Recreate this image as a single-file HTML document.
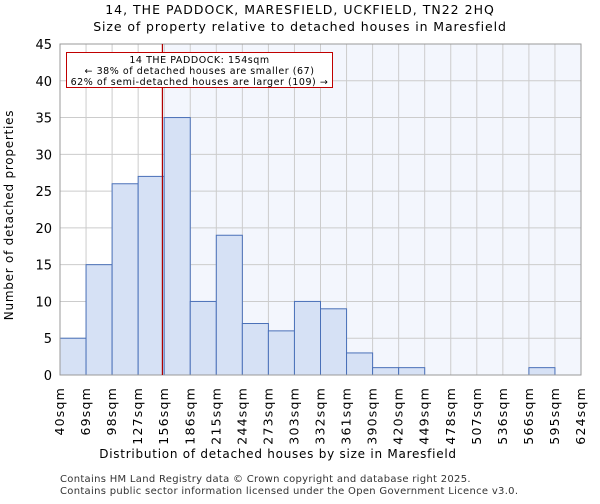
<!DOCTYPE html>
<html><head><meta charset="utf-8"><style>
body{margin:0;background:#fff;font-family:"DejaVu Sans","Liberation Sans",sans-serif}
</style></head><body>
<svg id="c" width="600" height="500" xmlns="http://www.w3.org/2000/svg" font-family="DejaVu Sans, Liberation Sans, sans-serif">
<text x="300" y="14" text-anchor="middle" font-size="12.5" letter-spacing="1">14, THE PADDOCK, MARESFIELD, UCKFIELD, TN22 2HQ</text>
<text x="300" y="31" text-anchor="middle" font-size="12.5" letter-spacing="0.9">Size of property relative to detached houses in Maresfield</text>
<g id="plot"></g>
<text x="278" y="458" text-anchor="middle" font-size="12" letter-spacing="0.75">Distribution of detached houses by size in Maresfield</text>
<text transform="translate(13,215) rotate(-90)" text-anchor="middle" font-size="12" letter-spacing="0.75">Number of detached properties</text>
<text x="60" y="482" font-size="10" letter-spacing="0.3" fill="#333">Contains HM Land Registry data © Crown copyright and database right 2025.</text>
<text x="60" y="494" font-size="10" letter-spacing="0.3" fill="#333">Contains public sector information licensed under the Open Government Licence v3.0.</text>
</svg>
<script>
const binLabels=["40sqm","69sqm","98sqm","127sqm","156sqm","186sqm","215sqm","244sqm","273sqm","303sqm","332sqm","361sqm","390sqm","420sqm","449sqm","478sqm","507sqm","536sqm","566sqm","595sqm","624sqm"];
const binEdges=[40,69,98,127,156,186,215,244,273,303,332,361,390,420,449,478,507,536,566,595,624];
const counts=[5,15,26,27,35,10,19,7,6,10,9,3,1,1,0,0,0,0,1,0];
const yTicks=[0,5,10,15,20,25,30,35,40,45];
const propertySize=154;
const NS="http://www.w3.org/2000/svg";
const L=60,R=581,T=44,B=375,YMAX=45;
const n=counts.length;
function xi(i){return L+(R-L)*i/n;}
function xv(v){let i=0;while(i<n-1&&v>binEdges[i+1])i++;return xi(i)+(v-binEdges[i])/(binEdges[i+1]-binEdges[i])*(xi(i+1)-xi(i));}
function y(v){return B-(B-T)*v/YMAX;}
const g=document.getElementById('plot');
function mk(t,a){const e=document.createElementNS(NS,t);for(const k in a)e.setAttribute(k,a[k]);g.appendChild(e);return e;}
const px=xv(propertySize);
let e=mk('rect',{x:px,y:T,width:R-px,height:B-T,fill:'#f3f6fd'});


yTicks.forEach(t=>{let l=mk('line',{x1:L,x2:R,y1:y(t),y2:y(t),stroke:'#ccc','stroke-width':1});


let tx=mk('text',{x:L-8,y:y(t)+5,'text-anchor':'end','font-size':13});tx.textContent=t;

});
for(let i=0;i<=n;i++){let l=mk('line',{x1:xi(i),x2:xi(i),y1:T,y2:B,stroke:'#ccc','stroke-width':1});

}
counts.forEach((c,i)=>{if(c<=0)return;let r=mk('rect',{x:xi(i),y:y(c),width:xi(i+1)-xi(i),height:B-y(c),fill:'#d6e1f5',stroke:'#4a70b8','stroke-width':1});

});
binLabels.forEach((s,i)=>{const xx=xi(i)+4;let t=mk('text',{transform:`translate(${xx},387) rotate(-90)`,'text-anchor':'end','font-size':12.5,'letter-spacing':1.2});t.textContent=s;

});
let ax=mk('rect',{x:L,y:T,width:R-L,height:B-T,fill:'none',stroke:'#999','stroke-width':1});


let rl=mk('line',{x1:px,x2:px,y1:T,y2:B,stroke:'#b00000','stroke-width':1.2});


let box=mk('rect',{x:66.5,y:52.5,width:266,height:35,fill:'#fff',stroke:'#c00000','stroke-width':1});


["14 THE PADDOCK: 154sqm","← 38% of detached houses are smaller (67)","62% of semi-detached houses are larger (109) →"].forEach((s,i)=>{let t=mk('text',{x:199.5,y:63+i*11,'text-anchor':'middle','font-size':9.5,'letter-spacing':0.55});t.textContent=s;

});
</script>
</body></html>
